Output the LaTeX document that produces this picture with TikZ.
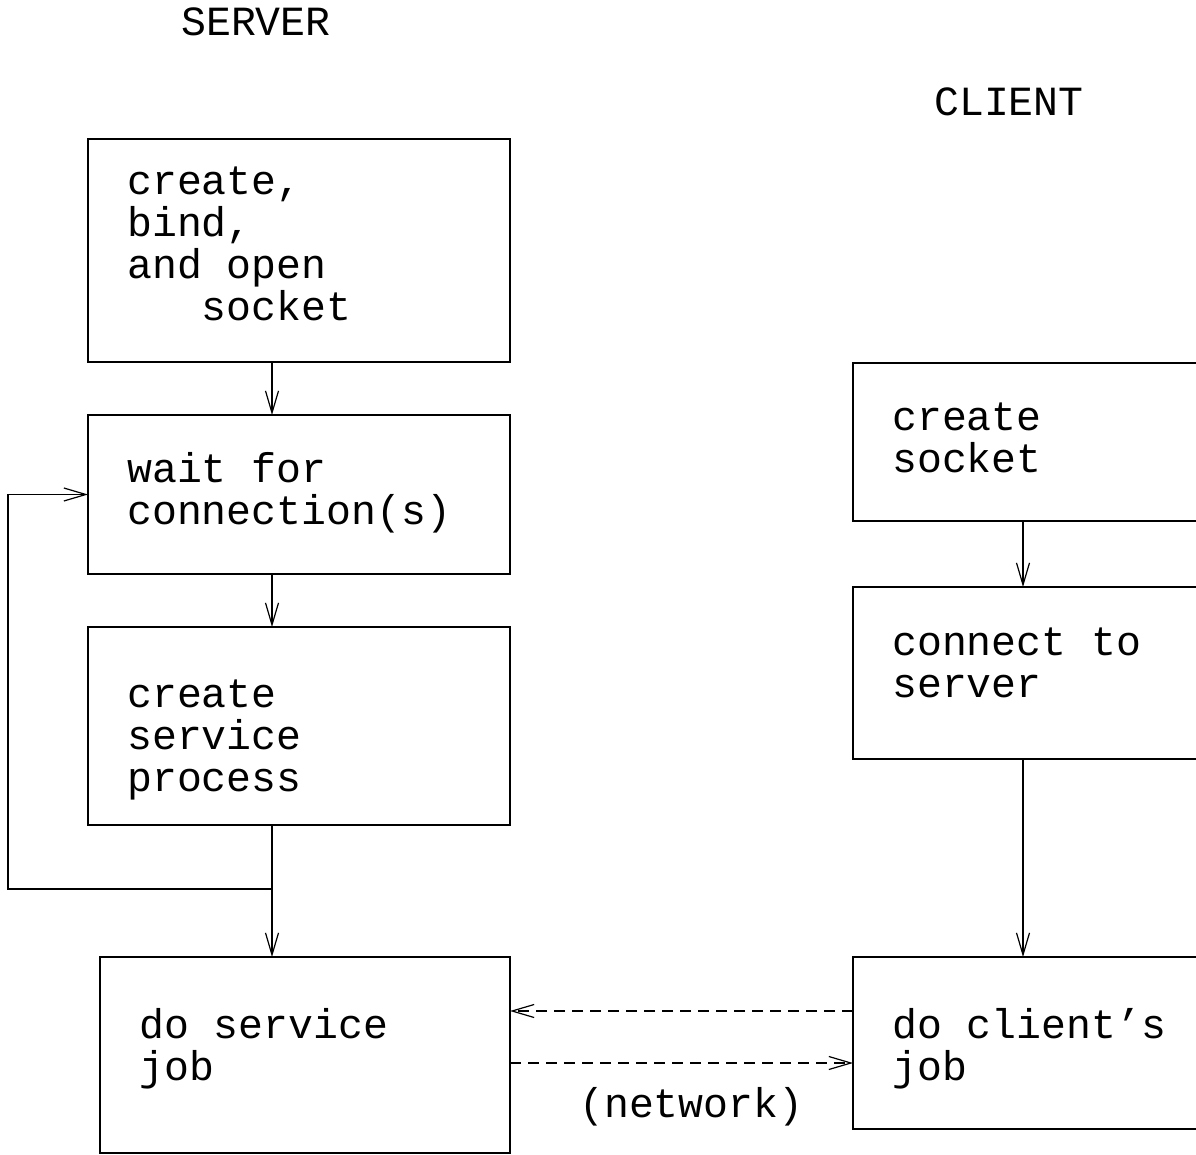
\documentclass[tikz,border=0pt]{standalone}
\usepackage{fontspec}
\newfontfamily\cour{Liberation Mono}
\usetikzlibrary{arrows.meta}
\tikzset{
  box/.style={draw, line width=1.3pt, rectangle, inner sep=0pt, outer sep=0pt, anchor=north west},
  txt/.style={font=\cour\fontsize{41.5}{42}\selectfont, align=left, inner sep=0pt, anchor=base west},
  arr/.style={line width=1.2pt, -{Straight Barb[length=22pt,width=13pt,line width=1.2pt]}},
  netdash/.style={line width=1.2pt, dash pattern=on 11pt off 7pt}
}
\begin{document}
\begin{tikzpicture}[x=1pt,y=-1pt]
\clip (0,0) rectangle (1196,1155);
\fill[white] (0,0) rectangle (1196,1155);
% helper coordinates
\coordinate (xl) at (272,0);
\coordinate (xr) at (1023,0);
\coordinate (lx) at (8,0);
\coordinate (j) at (272,889);
\coordinate (d1) at (0,1011);
\coordinate (d2) at (0,1063);
% titles
\node[txt] (server) at (181,36) {SERVER};
\node[txt] (client) at (934,116) {CLIENT};
% server boxes
\node[box, minimum width=422pt, minimum height=223pt] (b1) at (88,139) {};
\node[txt] (t1) at (127,321) {create,\\bind,\\and open\\\ \ \ socket};
\node[box, minimum width=422pt, minimum height=159pt] (b2) at (88,415) {};
\node[txt] (t2) at (127,524) {wait for\\connection(s)};
\node[box, minimum width=422pt, minimum height=198pt] (b3) at (88,627) {};
\node[txt] (t3) at (127,791) {create\\service\\process};
\node[box, minimum width=410pt, minimum height=196pt] (b4) at (100,957) {};
\node[txt] (t4) at (139,1080) {do service\\job};
% client boxes
\node[box, minimum width=400pt, minimum height=158pt] (b5) at (853,363) {};
\node[txt] (t5) at (892,472) {create\\socket};
\node[box, minimum width=400pt, minimum height=172pt] (b6) at (853,587) {};
\node[txt] (t6) at (892,697) {connect to\\server};
\node[box, minimum width=400pt, minimum height=172pt] (b7) at (853,957) {};
\node[txt] (t7) at (892,1080) {do client’s\\job};
\node[txt] (net) at (579,1117) {(network)};
% connectors
\draw[arr] (b1.south -| xl) -- (b2.north -| xl);
\draw[arr] (b2.south -| xl) -- (b3.north -| xl);
\draw[arr] (b3.south -| xl) -- (b4.north -| xl);
\draw[arr] (j) -- (j -| lx) |- (b2.west);
\draw[arr] (b5.south -| xr) -- (b6.north -| xr);
\draw[arr] (b6.south -| xr) -- (b7.north -| xr);
\draw[netdash, -{Straight Barb[length=22pt,width=13pt,line width=1.2pt]}] (b7.west |- d1) -- (b4.east |- d1);
\draw[netdash, -{Straight Barb[length=22pt,width=13pt,line width=1.2pt]}] (b4.east |- d2) -- (b7.west |- d2);
\end{tikzpicture}
\end{document}
